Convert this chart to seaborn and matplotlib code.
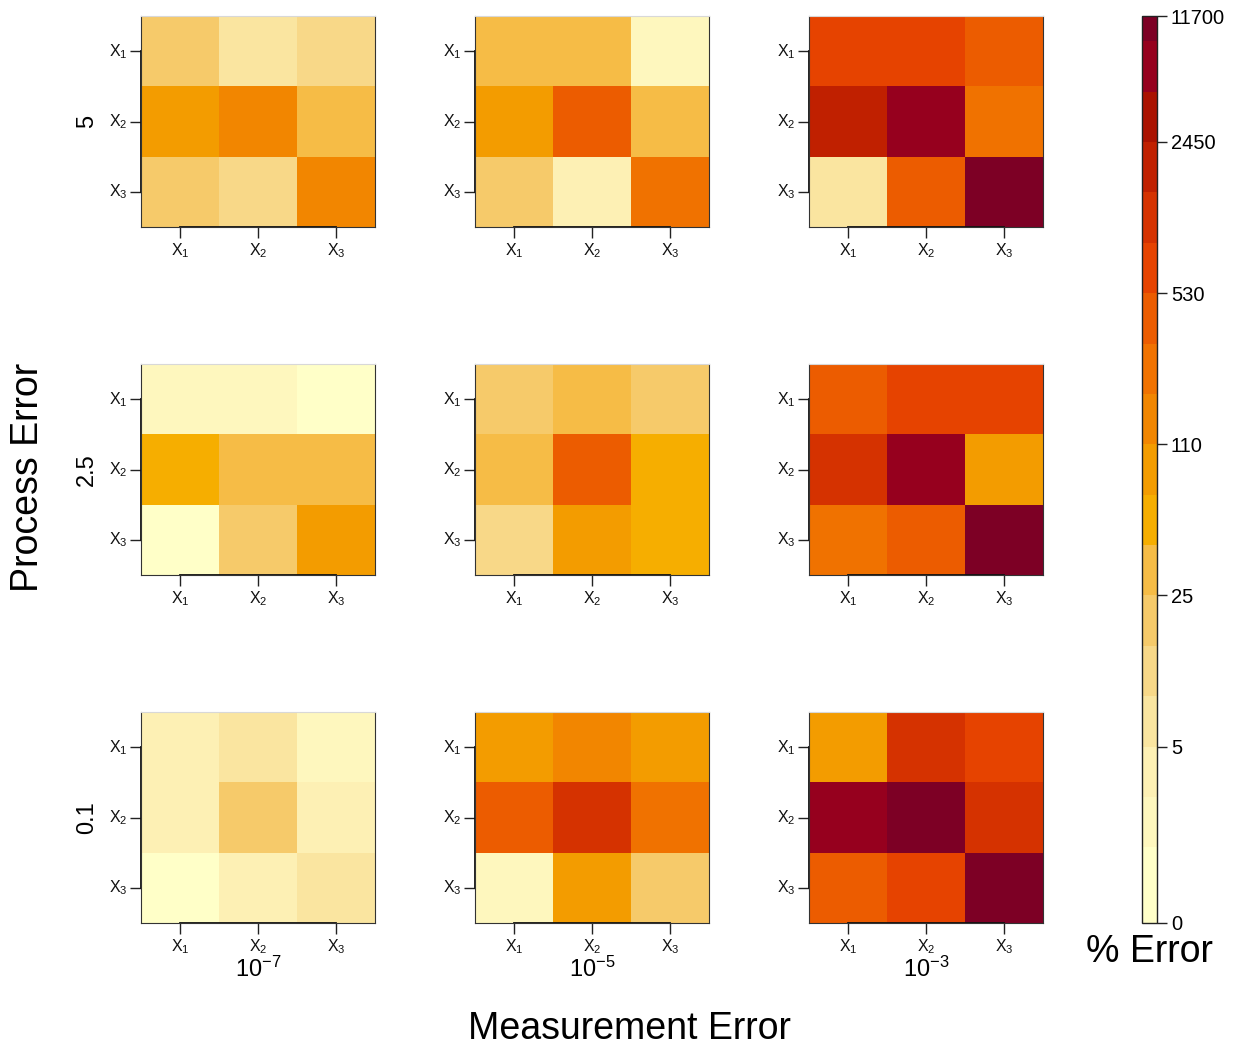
import numpy as np
import pandas as pd
import matplotlib
matplotlib.use("Agg")
import matplotlib.pyplot as plt
from matplotlib.colors import ListedColormap, BoundaryNorm
from matplotlib.cm import ScalarMappable
from matplotlib.ticker import NullLocator
import seaborn as sns

# ---- data -------------------------------------------------------------
variables = [r"$\mathregular{X_1}$", r"$\mathregular{X_2}$", r"$\mathregular{X_3}$"]
process_levels = ["5", "2.5", "0.1"]
measurement_levels = [r"$\mathregular{10^{-7}}$", r"$\mathregular{10^{-5}}$", r"$\mathregular{10^{-3}}$"]

# % error (rows: true variable, columns: estimated variable)
err_pe5_me7 = [[19, 6.7, 11.5], [86, 143, 32], [20, 11, 150]]
err_pe5_me5 = [[31, 33, 1.8], [88, 410, 30], [19, 3.6, 240]]
err_pe5_me3 = [[690, 700, 400], [1900, 6200, 245], [6.5, 420, 11700]]
err_pe25_me7 = [[1.8, 1.7, 0.5], [53, 32, 33], [0.4, 20, 85]]
err_pe25_me5 = [[19, 32, 20], [31, 405, 54], [11, 87, 52]]
err_pe25_me3 = [[410, 680, 700], [1150, 6300, 85], [240, 415, 10800]]
err_pe01_me7 = [[3.6, 6.6, 1.8], [3.7, 19, 3.5], [0.6, 3.7, 6.8]]
err_pe01_me5 = [[86, 145, 88], [410, 1140, 242], [1.7, 86, 20]]
err_pe01_me3 = [[85, 1150, 690], [6300, 11200, 1130], [405, 685, 11700]]

# colour key: labelled values and their positions along the key
key_values = [0, 5, 25, 110, 530, 2450, 11700]
key_positions = [0, 3.5, 6.5, 9.5, 12.5, 15.5, 18]
palette = ["#FFFFC8", "#FEF7BE", "#FDF0B4", "#FAE5A0", "#F8D888", "#F6CA6A",
           "#F6BC46", "#F6AE00", "#F39C00", "#F28600", "#F07200", "#EC5C00",
           "#E64300", "#D53200", "#C02000", "#AA1200", "#96001E", "#7D0025"]

panels = [[err_pe5_me7, err_pe5_me5, err_pe5_me3],
          [err_pe25_me7, err_pe25_me5, err_pe25_me3],
          [err_pe01_me7, err_pe01_me5, err_pe01_me3]]

# ---- colour scale -----------------------------------------------------
key_edges = np.concatenate([[0.0], np.arange(1.5, 18, 1.0), [18.0]])
value_edges = np.expm1(np.interp(key_edges, key_positions, np.log1p(key_values)))
cmap = ListedColormap(palette)
cmap.set_over(palette[-1])
value_norm = BoundaryNorm(value_edges, cmap.N)

plt.rcParams["font.family"] = ["Liberation Sans", "DejaVu Sans"]
plt.rcParams["mathtext.default"] = "regular"

W, H = 1240, 1046
fig = plt.figure(figsize=(W / 100, H / 100), dpi=100)

col_x = [141, 475, 809]
row_y = [16, 364, 712]
pw, ph = 234, 211

for i, row in enumerate(panels):
    for j, vals in enumerate(row):
        ax = fig.add_axes([col_x[j] / W, 1 - (row_y[i] + ph) / H, pw / W, ph / H])
        df = pd.DataFrame(vals, index=variables, columns=variables)
        sns.heatmap(df, ax=ax, cmap=cmap, norm=value_norm, cbar=False,
                    xticklabels=variables, yticklabels=variables)
        ax.set_xlabel("")
        ax.set_ylabel("")
        ax.set_yticklabels(variables, rotation=0)
        ax.set_xticklabels(variables, rotation=0)
        ax.tick_params(axis="both", direction="out", length=8, width=1,
                       color="#222222", labelsize=11.5, pad=2, labelcolor="#111111")
        for name, sp in ax.spines.items():
            sp.set_visible(True)
            sp.set_linewidth(0.8)
            sp.set_color("#333333")
        ax.spines["top"].set_color("#d8d8d8")
        # axis lines spanning the tick range
        ax.plot([0.5, 2.5], [3, 3], color="#111111", lw=1.3, clip_on=False)
        ax.plot([0, 0], [0.5, 2.5], color="#111111", lw=1.3, clip_on=False)

# row labels (process error)
for i, lab in enumerate(process_levels):
    fig.text(87 / W, 1 - (row_y[i] + ph / 2) / H, lab, rotation=90,
             ha="center", va="center", fontsize=17)
# column labels (measurement error)
for j, lab in enumerate(measurement_levels):
    fig.text((col_x[j] + pw / 2) / W, 1 - 969 / H, lab,
             ha="center", va="center", fontsize=17)

fig.text(28 / W, 1 - 477 / H, "Process Error", rotation=90,
         ha="center", va="center", fontsize=27)
fig.text(629 / W, 1 - 1029 / H, "Measurement Error",
         ha="center", va="center", fontsize=27)
fig.text(1149 / W, 1 - 952 / H, "% Error",
         ha="center", va="center", fontsize=27)

# colour key
cax = fig.add_axes([1142 / W, 1 - 923 / H, 15 / W, 907 / H])
key_norm = BoundaryNorm(key_edges, cmap.N)
cbar = fig.colorbar(ScalarMappable(norm=key_norm, cmap=cmap), cax=cax,
                    spacing="proportional", ticks=key_positions)
cbar.minorticks_off()
cbar.ax.yaxis.set_minor_locator(NullLocator())
cbar.ax.set_yticklabels([str(v) for v in key_values])
cbar.ax.tick_params(which="major", length=7, width=1, labelsize=14.5, pad=3,
                    color="#222222")
cbar.ax.tick_params(which="minor", length=0)
cbar.outline.set_linewidth(1.0)
cbar.outline.set_edgecolor("#222222")

fig.savefig("out.png", dpi=100)
